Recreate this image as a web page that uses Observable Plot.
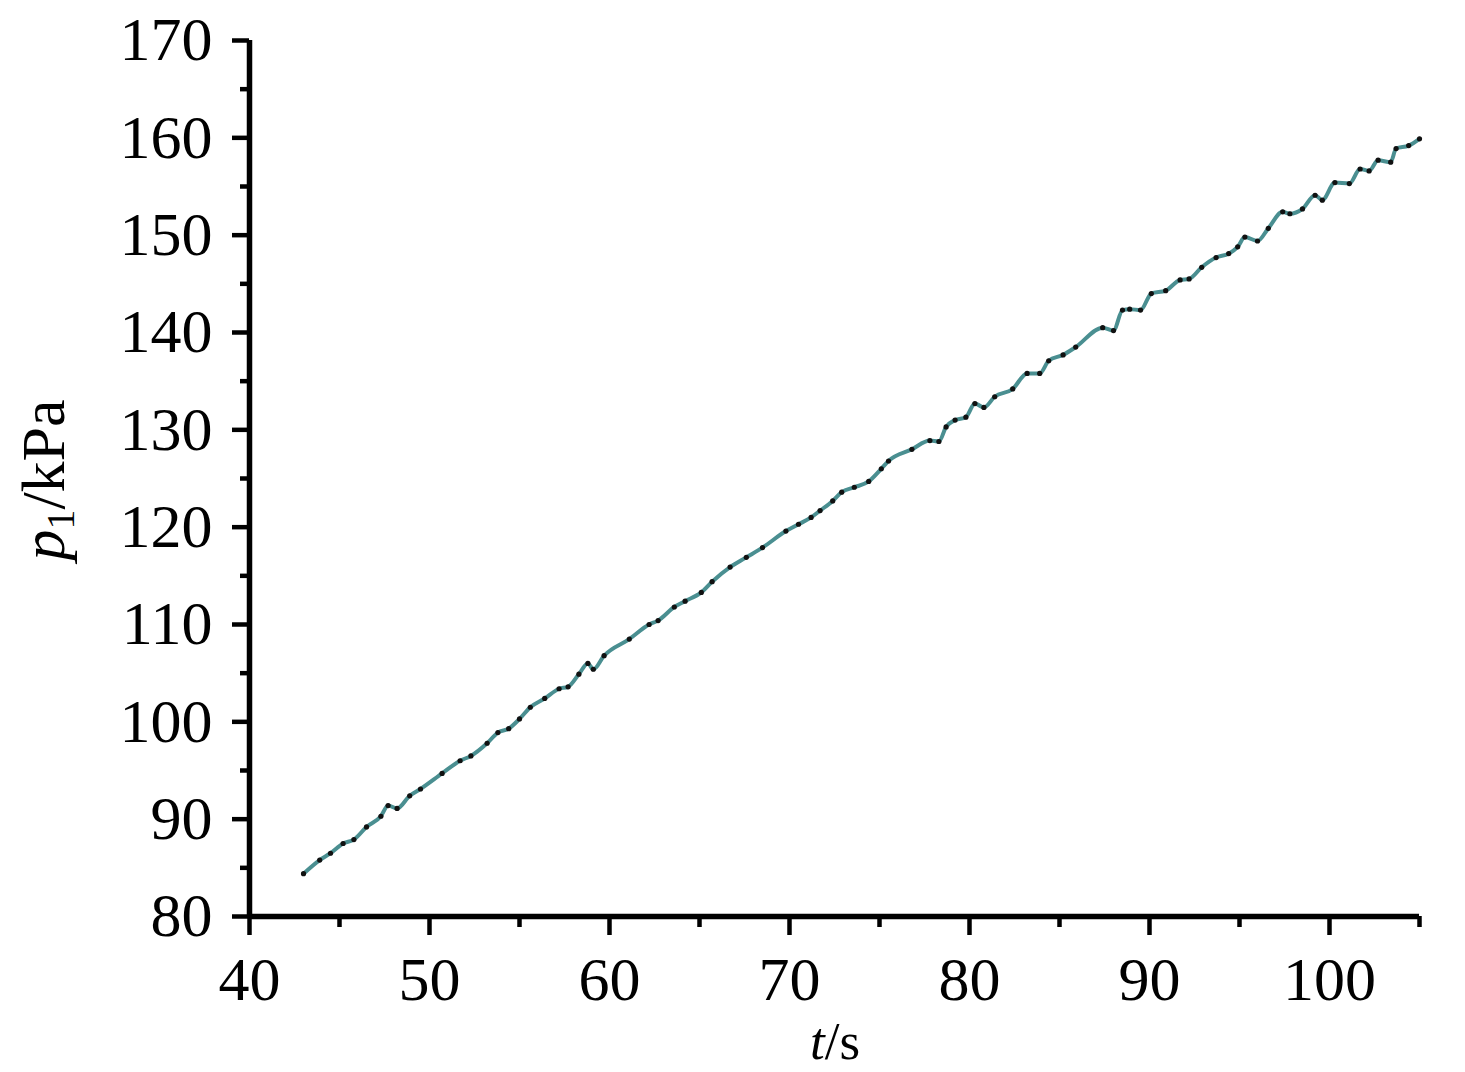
<!DOCTYPE html>
<html>
<head>
<meta charset="utf-8">
<script src="https://cdn.jsdelivr.net/npm/d3@7"></script>
<script src="https://cdn.jsdelivr.net/npm/@observablehq/plot@0.6"></script>
<style>
  html, body { margin: 0; padding: 0; background: #fff; }
  #chart svg { display: block; }
</style>
</head>
<body>
<div id="chart"></div>
<script>
// time (s)
const tValues = [43.0, 43.9, 44.5, 45.2, 45.8, 46.5, 47.3, 47.7, 48.2, 48.9, 49.5, 50.7, 51.7, 52.3, 53.2, 53.8, 54.4, 55.0,
  55.6, 56.4, 57.2, 57.7, 58.3, 58.8, 59.1, 59.7, 61.1, 62.2, 62.7, 63.6, 64.2, 65.1,
  65.7, 66.7, 67.6, 68.5, 69.8, 70.5, 71.2, 71.7, 72.4, 72.9, 73.6, 74.4, 75.1,
  75.5, 76.8, 77.8, 78.3, 78.7, 79.2, 79.8, 80.3, 80.8, 81.4, 82.4, 83.2, 83.9, 84.4, 85.2,
  85.9, 87.4, 88.0, 88.5, 88.9, 89.5, 90.1, 90.9, 91.7, 92.2, 92.9, 93.7, 94.4, 94.9,
  95.3, 96.0, 96.6, 97.4, 97.8, 98.5, 99.2, 99.6, 100.3, 101.1, 101.7, 102.2, 102.7, 103.4, 103.7, 104.4, 105.0];
// pressure p1 (kPa)
const pValues = [84.4, 85.8, 86.5, 87.5, 87.9, 89.2, 90.3, 91.4, 91.1, 92.4, 93.1, 94.7, 96.0, 96.5, 97.8, 98.9, 99.3, 100.3,
  101.5, 102.4, 103.4, 103.6, 104.9, 106.0, 105.4, 106.8, 108.5, 110.0, 110.4, 111.8, 112.4, 113.3,
  114.4, 115.9, 116.9, 117.9, 119.6, 120.3, 121.0, 121.7, 122.7, 123.6, 124.1, 124.7, 126.0,
  126.8, 128.0, 128.9, 128.8, 130.3, 131.0, 131.3, 132.7, 132.3, 133.4, 134.2, 135.8, 135.8, 137.1, 137.7,
  138.5, 140.5, 140.2, 142.3, 142.4, 142.3, 144.0, 144.3, 145.4, 145.5, 146.7, 147.7, 148.1, 148.8,
  149.8, 149.4, 150.7, 152.4, 152.2, 152.7, 154.1, 153.6, 155.4, 155.3, 156.8, 156.6, 157.7, 157.5, 158.9, 159.2, 159.9];

const xMajor = [40, 50, 60, 70, 80, 90, 100];
const xMinor = [45, 55, 65, 75, 85, 95, 105];
const yMajor = [80, 90, 100, 110, 120, 130, 140, 150, 160, 170];
const yMinor = [85, 95, 105, 115, 125, 135, 145, 155, 165];

const data = tValues.map((t, i) => ({t, p: pValues[i]}));
const FONT = "'Liberation Serif', 'Times New Roman', serif";

const chart = Plot.plot({
  width: 1465,
  height: 1072,
  marginLeft: 249,
  marginRight: 46,
  marginTop: 40,
  marginBottom: 156,
  style: {fontFamily: FONT, background: "#fff", color: "#000"},
  x: {domain: [40, 105]},
  y: {domain: [80, 170]},
  marks: [
    Plot.axisX({ticks: xMajor, tickSize: 19, tickPadding: 20, fontSize: 62, strokeWidth: 4.5, label: null, tickFormat: d => String(d)}),
    Plot.axisX({ticks: xMinor, tickSize: 11, strokeWidth: 4.5, text: null, label: null}),
    Plot.axisY({ticks: yMajor, tickSize: 17, tickPadding: 20, fontSize: 62, strokeWidth: 4.5, label: null, tickFormat: d => String(d)}),
    Plot.axisY({ticks: yMinor, tickSize: 9, strokeWidth: 4.5, text: null, label: null}),
    Plot.ruleY([80], {x1: 40, x2: 105, stroke: "#000", strokeWidth: 5.5}),
    Plot.ruleX([40], {y1: 80, y2: 170, stroke: "#000", strokeWidth: 5.5}),
    Plot.line(data, {x: "t", y: "p", stroke: "#4a8f91", strokeWidth: 4, curve: "monotone-x"}),
    Plot.dot(data, {x: "t", y: "p", r: 2.6, fill: "#111", stroke: "none"})
  ]
});

const svg = d3.select(chart);
// x-axis label: t/s
const xl = svg.append("text")
  .attr("x", 835).attr("y", 1059)
  .attr("text-anchor", "middle")
  .attr("font-family", FONT).attr("font-size", 53).attr("fill", "#000");
xl.append("tspan").attr("font-style", "italic").text("t");
xl.append("tspan").text("/s");

// y-axis label: p1/kPa
const yl = svg.append("text")
  .attr("transform", "translate(64,480) rotate(-90)")
  .attr("text-anchor", "middle")
  .attr("font-family", FONT).attr("font-size", 62).attr("fill", "#000");
yl.append("tspan").attr("font-style", "italic").text("p");
yl.append("tspan").attr("font-size", 40).attr("dy", 10).text("1");
yl.append("tspan").attr("dy", -10).text("/kPa");

document.getElementById("chart").appendChild(chart);
</script>
</body>
</html>
